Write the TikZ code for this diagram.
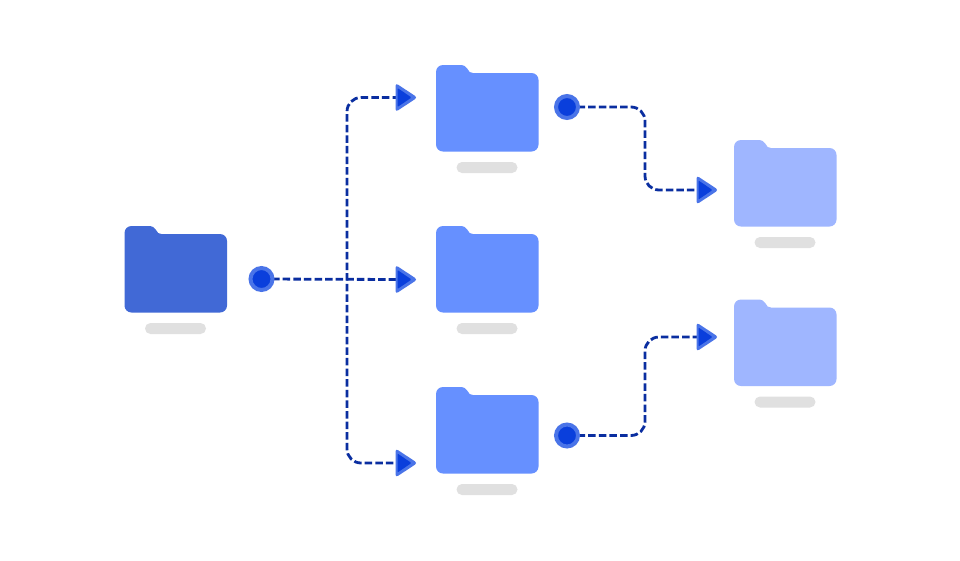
\documentclass[tikz,border=0pt]{standalone}
\usetikzlibrary{backgrounds}
\definecolor{fdark}{HTML}{4169D6}
\definecolor{fmid}{HTML}{6690FF}
\definecolor{flight}{HTML}{9FB6FF}
\definecolor{barcol}{HTML}{E0E0E0}
\definecolor{linecol}{HTML}{0A2EA0}
\definecolor{markout}{HTML}{4A74E8}
\definecolor{markin}{HTML}{0A3FDC}
\tikzset{
  x=1pt,y=-1pt,
  flow/.style={draw=linecol,line width=2.8pt,dash pattern=on 7.5pt off 3.1pt,rounded corners=14pt},
  dotmark/.style={circle,draw=markout,fill=markin,line width=4pt,minimum size=22pt,inner sep=0pt,outer sep=0pt},
  folder/.pic={
    \fill[pic actions]
      (7,0) -- (24,0) .. controls (28,0) and (30,1.5) .. (31.5,4)
      .. controls (33,6.8) and (34,8) .. (37,8) -- (95.5,8)
      .. controls (99.4,8) and (102.5,11.1) .. (102.5,15) -- (102.5,79.5)
      .. controls (102.5,83.4) and (99.4,86.5) .. (95.5,86.5) -- (7,86.5)
      .. controls (3.1,86.5) and (0,83.4) .. (0,79.5) -- (0,7)
      .. controls (0,3.1) and (3.1,0) .. (7,0) -- cycle;
    \fill[barcol,rounded corners=5.5pt] (20.5,97) rectangle (81.5,108);
  },
  arrowmark/.pic={
    \coordinate (-in) at (0,0);
    \fill[markout,rounded corners=3pt] (-4.5,-14.5) -- (17.5,0) -- (-4.5,14.5) -- cycle;
    \fill[markin,rounded corners=1pt] (-2.5,-9.5) -- (11.5,0) -- (-2.5,9.5) -- cycle;
  }
}
\begin{document}
\begin{tikzpicture}
\useasboundingbox (0,0) rectangle (960,560);
\pic[fill=fdark] (f0) at (124.5,226) {folder};
\pic[fill=fmid] (f1) at (436,65) {folder};
\pic[fill=fmid] (f2) at (436,226) {folder};
\pic[fill=fmid] (f3) at (436,387) {folder};
\pic[fill=flight] (f4) at (734,140) {folder};
\pic[fill=flight] (f5) at (734,299.5) {folder};
\node[dotmark] (d0) at (261.5,279) {};
\node[dotmark] (d1) at (567,107) {};
\node[dotmark] (d3) at (567,435.5) {};
\pic (a1) at (400,97.5) {arrowmark};
\pic (a2) at (400,279.5) {arrowmark};
\pic (a3) at (400,463) {arrowmark};
\pic (a4) at (701,190) {arrowmark};
\pic (a5) at (701,337) {arrowmark};
\coordinate (v0) at (347,0);
\coordinate (v1) at (645,0);
\begin{pgfonlayer}{background}
\fill[white] (0,0) rectangle (960,560);
\draw[flow] (a1-in) -- (v0 |- a1-in) -- (v0 |- a3-in) -- (a3-in);
\draw[flow] (d0.center) -- (a2-in);
\draw[flow] (d1.center) -- (d1 -| v1) -- (v1 |- a4-in) -- (a4-in);
\draw[flow] (d3.center) -- (d3 -| v1) -- (v1 |- a5-in) -- (a5-in);
\end{pgfonlayer}
\end{tikzpicture}
\end{document}
